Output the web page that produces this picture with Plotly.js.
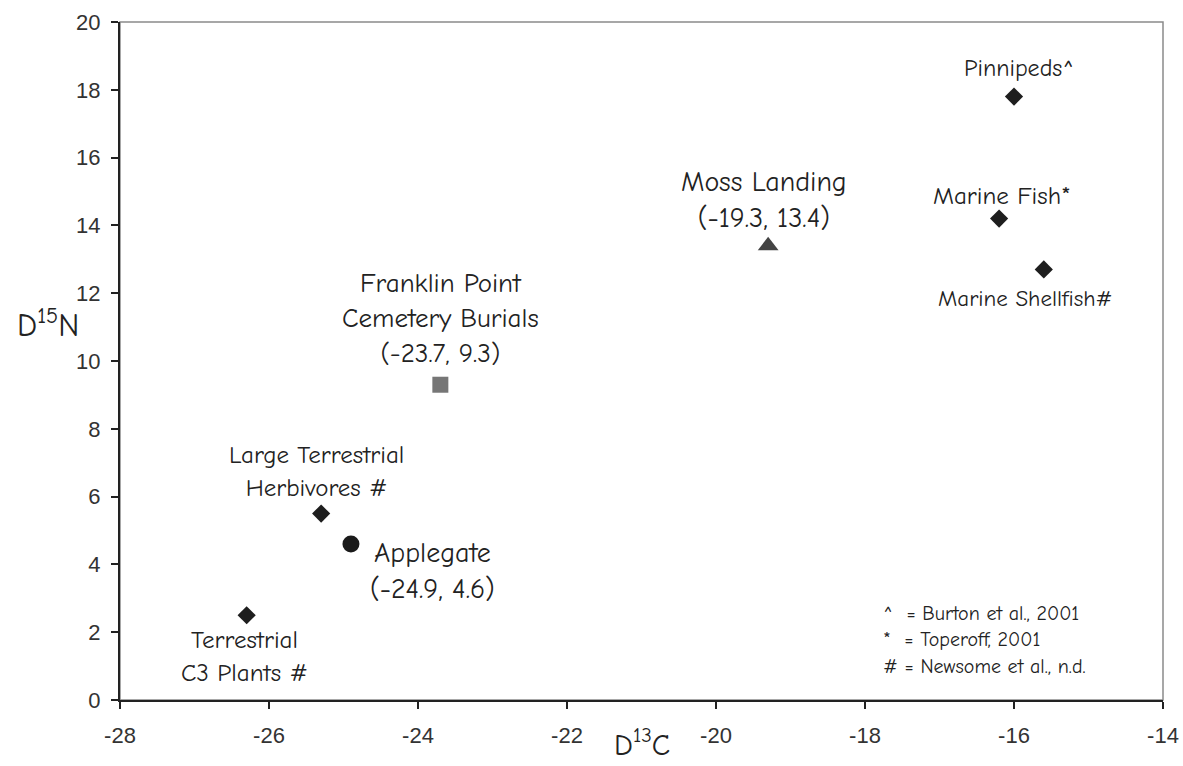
<!DOCTYPE html>
<html>
<head>
<meta charset="utf-8">
<script src="https://cdn.plot.ly/plotly-3.0.1.min.js"></script>
<style>html,body{margin:0;padding:0;background:#fff;}#chart{width:1183px;height:766px;}</style>
</head>
<body>
<div id="chart"></div>
<script>
// Reference food sources (diamonds)
const refNames = ["Pinnipeds^", "Marine Fish*", "Marine Shellfish#", "Large Terrestrial<br>Herbivores #", "Terrestrial<br>C3 Plants #"];
const refX = [-16.0, -16.2, -15.6, -25.3, -26.3];
const refY = [17.8, 14.2, 12.7, 5.5, 2.5];

// Sites
const mossName = "Moss Landing<br>(-19.3, 13.4)";
const mossX = [-19.3];
const mossY = [13.4];

const franklinName = "Franklin Point<br>Cemetery Burials<br>(-23.7, 9.3)";
const franklinX = [-23.7];
const franklinY = [9.3];

const applegateName = "Applegate<br>(-24.9, 4.6)";
const applegateX = [-24.9];
const applegateY = [4.6];

const xTicks = [-28, -26, -24, -22, -20, -18, -16, -14];
const yTicks = [0, 2, 4, 6, 8, 10, 12, 14, 16, 18, 20];

const notes = ["^  = Burton et al., 2001", "*  = Toperoff, 2001", "# = Newsome et al., n.d."];

const labelFont = "Comic Sans MS, Comic Neue, Noto Sans, sans-serif";

const traces = [
  {x: refX, y: refY, type: "scatter", mode: "markers",
   marker: {symbol: "diamond", size: 14, color: "#1e1e1e"}, hoverinfo: "skip"},
  {x: mossX, y: mossY, type: "scatter", mode: "markers",
   marker: {symbol: "triangle-up", size: 18, color: "#444"}, hoverinfo: "skip"},
  {x: franklinX, y: franklinY, type: "scatter", mode: "markers",
   marker: {symbol: "square", size: 16, color: "#767676"}, hoverinfo: "skip"},
  {x: applegateX, y: applegateY, type: "scatter", mode: "markers",
   marker: {symbol: "circle", size: 17, color: "#1a1a1a"}, hoverinfo: "skip"}
];

// label offsets (pixels) relative to the marker, and font size
const refShift = [[5, 29, 24], [3, 23, 25], [-18, -29, 23], [-5, 43, 25], [-2, -41, 25]];

const annotations = [];
refNames.forEach((n, i) => {
  annotations.push({x: refX[i], y: refY[i], xref: "x", yref: "y", text: n, showarrow: false,
    xshift: refShift[i][0], yshift: refShift[i][1], xanchor: "center", yanchor: "middle",
    font: {family: labelFont, size: refShift[i][2], color: "#222"}});
});
annotations.push({x: mossX[0], y: mossY[0], xref: "x", yref: "y", text: mossName, showarrow: false,
  xshift: -4, yshift: 46, font: {family: labelFont, size: 28, color: "#222"}});
annotations.push({x: franklinX[0], y: franklinY[0], xref: "x", yref: "y", text: franklinName, showarrow: false,
  xshift: 0, yshift: 66, font: {family: labelFont, size: 27, color: "#222"}});
annotations.push({x: applegateX[0], y: applegateY[0], xref: "x", yref: "y", text: applegateName, showarrow: false,
  xshift: 82, yshift: -27, font: {family: labelFont, size: 28, color: "#222"}});

notes.forEach((t, i) => {
  annotations.push({x: 0.73, y: 0.128 - i * 0.039, xref: "paper", yref: "paper", text: t, showarrow: false,
    xanchor: "left", yanchor: "middle", font: {family: labelFont, size: 20, color: "#222"}});
});

// axis titles
annotations.push({x: 0, y: 0.555, xref: "paper", yref: "paper", xanchor: "center", yanchor: "middle",
  xshift: -72, text: "D<sup>15</sup>N", showarrow: false, font: {family: labelFont, size: 32, color: "#222"}});
annotations.push({x: 0.5, y: 0, xref: "paper", yref: "paper", xanchor: "center", yanchor: "middle",
  yshift: -43, text: "D<sup>13</sup>C", showarrow: false, font: {family: labelFont, size: 30, color: "#222"}});

const tickFont = {family: "Liberation Sans, Arial, sans-serif", size: 22, color: "#333"};

const layout = {
  width: 1183, height: 766,
  margin: {l: 120, r: 20, t: 22, b: 66},
  paper_bgcolor: "#fff", plot_bgcolor: "#fff",
  showlegend: false,
  xaxis: {range: [-28, -14], tickvals: xTicks, ticktext: xTicks.map(String), showgrid: false, zeroline: false,
    showline: true, linecolor: "#222", linewidth: 2, ticks: "outside", ticklen: 7, tickwidth: 2, tickcolor: "#222",
    ticklabelstandoff: 8, tickfont: tickFont},
  yaxis: {range: [0, 20], tickvals: yTicks, ticktext: yTicks.map(String), showgrid: false, zeroline: false,
    showline: true, linecolor: "#222", linewidth: 2, ticks: "outside", ticklen: 7, tickwidth: 2, tickcolor: "#222",
    ticklabelstandoff: 6, tickfont: tickFont},
  shapes: [{type: "rect", xref: "paper", yref: "paper", x0: 0, y0: 0, x1: 1, y1: 1,
    line: {color: "#8a8a8a", width: 1.5}, layer: "below"}],
  annotations: annotations
};

Plotly.newPlot("chart", traces, layout, {staticPlot: true, displayModeBar: false});
</script>
</body>
</html>
